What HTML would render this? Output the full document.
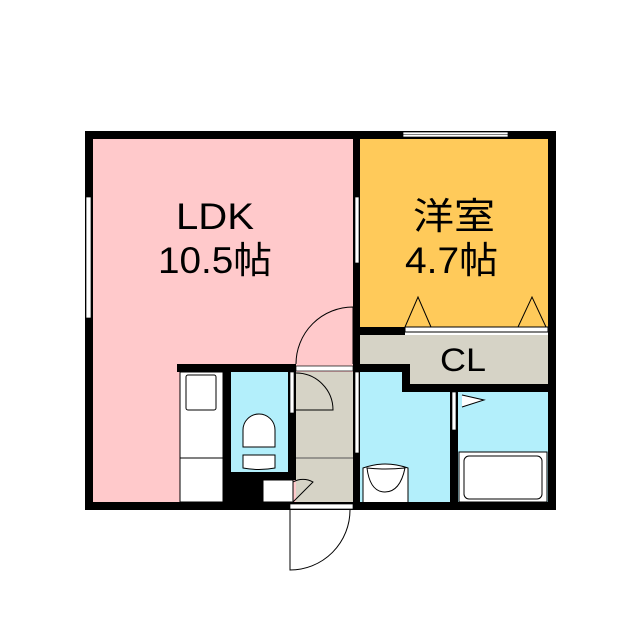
<!DOCTYPE html><html><head><style>body{margin:0;background:#fff}svg{display:block}</style></head><body>
<svg width="640" height="640" viewBox="0 0 640 640" xmlns="http://www.w3.org/2000/svg" font-family="Liberation Sans, Noto Sans CJK JP, sans-serif">
<rect width="640" height="640" fill="#fff"/>
<!-- rooms -->
<rect x="93" y="139" width="262" height="363" fill="#ffc9cb"/>
<rect x="360" y="139" width="188" height="190" fill="#ffca5a"/>
<rect x="231" y="372" width="57" height="100" fill="#b3effb"/>
<rect x="296" y="372" width="57" height="130" fill="#d6d3c6"/>
<rect x="360" y="372" width="92" height="130" fill="#b3effb"/>
<rect x="458" y="390" width="90" height="112" fill="#b3effb"/>
<polygon points="360,335 548,335 548,386 405,386 405,365 360,365" fill="#d6d3c6"/>
<!-- kitchen -->
<rect x="180" y="372" width="43" height="130" fill="#fff" stroke="#000" stroke-width="1"/>
<line x1="180" y1="458" x2="223" y2="458" stroke="#000"/>
<rect x="186" y="375" width="30" height="35" rx="2" fill="#fff" stroke="#000"/>
<!-- toilet -->
<path d="M243,447 V430 a16,16 0 0 1 32,0 V447 Z" fill="#fff" stroke="#000"/>
<path d="M243,455 H275 V468 Q259,471 243,468 Z" fill="#fff" stroke="#000"/>
<rect x="223" y="472" width="40" height="30" fill="#000"/>
<rect x="263" y="480" width="30" height="22" fill="#fff" stroke="#000"/>
<line x1="296" y1="458" x2="353" y2="458" stroke="#555"/>
<!-- hall door arcs -->
<path d="M296,373 A37,37 0 0 1 333,410 H296" fill="none" stroke="#000"/>
<path d="M293,482 A20,20 0 0 1 313,482 L293,502" fill="none" stroke="#000"/>
<!-- sink -->
<path d="M363,502 V468 Q385,460 408,468 V502" fill="#fff" stroke="#000"/>
<path d="M367,468 Q385,470 405,468 Q400,492 385,492 Q370,492 367,468 Z" fill="#fff" stroke="#000"/>
<!-- bath -->
<rect x="459" y="452" width="88" height="50" fill="#fff" stroke="#000"/>
<rect x="464" y="456" width="78" height="43" rx="5" fill="#fff" stroke="#000"/>
<path d="M462,395 L484,400 L462,407" fill="#fff" stroke="#000"/>
<!-- walls -->
<g fill="#000">
<rect x="85" y="131" width="471" height="8"/>
<rect x="85" y="131" width="8" height="379"/>
<rect x="548" y="131" width="8" height="379"/>
<rect x="85" y="502" width="471" height="8"/>
<rect x="353" y="139" width="7" height="196"/>
<rect x="353" y="327" width="52" height="8"/>
<rect x="353" y="327" width="7" height="45"/>
<rect x="177" y="364" width="119" height="8"/>
<rect x="353" y="364" width="57" height="8"/>
<rect x="402" y="364" width="8" height="28"/>
<rect x="402" y="384" width="154" height="8"/>
<rect x="223" y="364" width="8" height="116"/>
<rect x="288" y="364" width="8" height="116"/>
<rect x="223" y="472" width="73" height="8"/>
<rect x="353" y="372" width="7" height="130"/>
<rect x="450" y="384" width="8" height="118"/>
</g>
<!-- openings -->
<rect x="405" y="327" width="143" height="5" fill="#fff" stroke="#000" stroke-width="1"/>
<rect x="296" y="366" width="57" height="5" fill="#fff" stroke="#000" stroke-width="0.7"/>
<rect x="290" y="372" width="4" height="41" fill="#fff" stroke="#000" stroke-width="0.7"/>
<rect x="355" y="372" width="4" height="81" fill="#fff" stroke="#000" stroke-width="0.7"/>
<rect x="452" y="392" width="4" height="38" fill="#fff" stroke="#000" stroke-width="0.7"/>
<rect x="290" y="504" width="63" height="5" fill="#fff" stroke="#000" stroke-width="0.7"/>
<rect x="86" y="197" width="5" height="121" fill="#fff" stroke="#000" stroke-width="0.7"/>
<rect x="355" y="197" width="4" height="66" fill="#fff" stroke="#000" stroke-width="0.7"/>
<rect x="403" y="132" width="105" height="5" fill="#fff" stroke="#000" stroke-width="0.7"/>
<line x1="403" y1="134.5" x2="508" y2="134.5" stroke="#000" stroke-width="0.5"/>
<!-- door arcs -->
<path d="M296,364 A57,57 0 0 1 353,307 V364" fill="none" stroke="#000"/>
<path d="M290,510 V570 A60,60 0 0 0 350,510" fill="none" stroke="#000"/>
<!-- closet triangles -->
<path d="M405,327 L418,297 L431,327 M518,327 L532,297 L546,327" fill="none" stroke="#000"/>
<!-- text -->
<g font-size="37" fill="#000">
<text x="176" y="229" textLength="78" lengthAdjust="spacingAndGlyphs">LDK</text>
<text x="158" y="273" textLength="114" lengthAdjust="spacingAndGlyphs">10.5帖</text>
<text x="413" y="229" textLength="82" lengthAdjust="spacingAndGlyphs">洋室</text>
<text x="405" y="273" textLength="93" lengthAdjust="spacingAndGlyphs">4.7帖</text>
<text x="440" y="371" font-size="32" textLength="46" lengthAdjust="spacingAndGlyphs">CL</text>
</g>
</svg>
</body></html>
